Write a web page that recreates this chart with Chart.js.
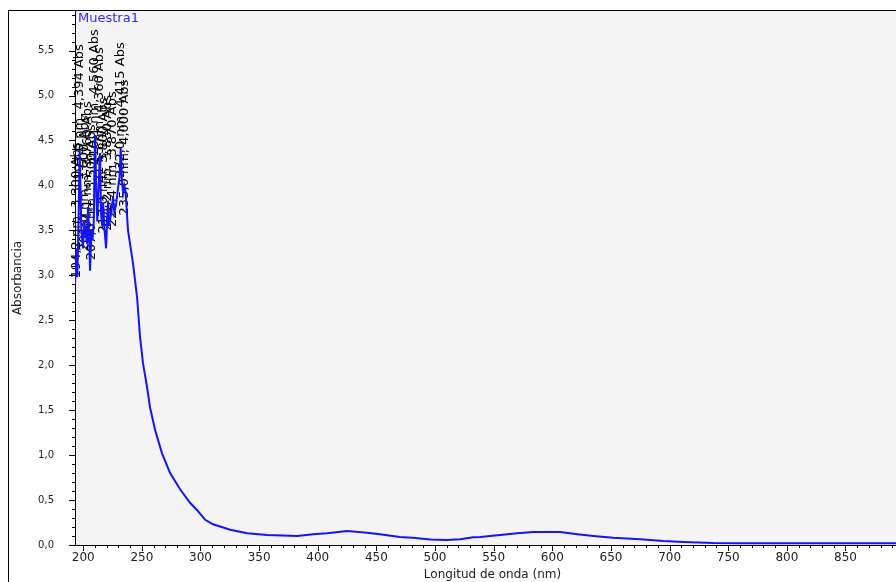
<!DOCTYPE html>
<html>
<head>
<meta charset="utf-8">
<script src="https://cdn.jsdelivr.net/npm/chart.js@4/dist/chart.umd.min.js"></script>
<style>
  html, body { margin: 0; padding: 0; background: #fff; overflow: hidden; }
  #wrap { width: 896px; height: 582px; overflow: hidden; }
</style>
</head>
<body>
<div id="wrap"><canvas id="spectrum" width="912" height="592"></canvas></div>
<script>
// UV-Vis scan, Muestra1
const wavelengths = [
  193.0, 194.2, 195.0, 196.0, 197.0, 198.4, 199.8, 201.0, 202.2, 203.4,
  204.1, 205.2, 205.8, 207.0, 208.0, 209.0, 210.1, 211.3, 212.0, 213.0,
  214.3, 215.2, 216.0, 217.0, 218.2, 219.5, 220.4, 221.2, 222.1, 222.9,
  224.0, 225.4, 226.5, 228.0, 229.5, 231.0, 232.0, 233.0, 234.0, 235.0,
  236.0, 238.2, 242.5, 245.9, 248.5, 251.0, 254.4, 257.0, 261.3, 267.2,
  274.1, 282.6, 291.1, 297.0, 301.4, 304.0, 310.7, 325.3, 339.8, 356.8,
  382.4, 396.1, 408.0, 425.0, 442.0, 453.0, 470.0, 481.0, 496.0, 510.0,
  521.5, 532.6, 538.6, 555.6, 570.0, 583.8, 606.8, 621.3, 635.0, 652.0,
  675.0, 694.7, 711.8, 737.4, 760.0, 800.0, 850.0, 900.0, 905.0
];
const absorbance = [
  2.90, 3.30, 2.98, 3.60, 4.394, 3.50, 3.30, 3.60, 3.45, 3.35,
  3.76, 3.40, 3.05, 3.50, 3.40, 3.60, 4.56, 3.85, 3.60, 3.95,
  4.36, 3.70, 3.55, 3.80, 3.50, 3.30, 3.60, 3.83, 3.55, 3.62,
  3.70, 3.87, 3.70, 3.78, 3.95, 4.10, 4.415, 4.05, 3.92, 4.00,
  3.95, 3.50, 3.13, 2.76, 2.31, 2.02, 1.76, 1.53, 1.28, 1.02,
  0.80, 0.62, 0.47, 0.39, 0.32, 0.28, 0.23, 0.17, 0.13, 0.11,
  0.10, 0.12, 0.13, 0.155, 0.135, 0.12, 0.09, 0.08, 0.06, 0.055,
  0.065, 0.085, 0.09, 0.11, 0.13, 0.145, 0.145, 0.12, 0.10, 0.08,
  0.065, 0.045, 0.033, 0.022, 0.02, 0.02, 0.02, 0.02, 0.02
];
const xTickValues = [200, 250, 300, 350, 400, 450, 500, 550, 600, 650, 700, 750, 800, 850];
const yTickValues = [0, 0.5, 1, 1.5, 2, 2.5, 3, 3.5, 4, 4.5, 5, 5.5];
const seriesName = 'Muestra1';
const peakLimit = 236; // only the noisy UV end gets peak labels

const comma = (v, d) => v.toFixed(d).replace('.', ',');
const font = 'DejaVu Sans';

const points = wavelengths.map((w, i) => ({ x: w, y: absorbance[i] }));

// local maxima in the UV region
const peaks = [];
for (let i = 1; i < points.length - 1; i++) {
  if (points[i].x < peakLimit && points[i].y > points[i - 1].y && points[i].y > points[i + 1].y) {
    peaks.push(points[i]);
  }
}

const framePlugin = {
  id: 'frame',
  beforeDraw(chart) {
    const { ctx, chartArea: a, width, height } = chart;
    ctx.save();
    ctx.fillStyle = '#fff';
    ctx.fillRect(0, 0, width, height);
    ctx.fillStyle = '#f4f4f4';
    ctx.fillRect(a.left, a.top, a.right - a.left, a.bottom - a.top);
    ctx.strokeStyle = '#000';
    ctx.lineWidth = 1;
    ctx.strokeRect(8.5, 10.5, width + 20, height + 20);
    ctx.restore();
  },
  beforeDatasetsDraw(chart) {
    const { ctx } = chart;
    const xs = chart.scales.x, ys = chart.scales.y;
    ctx.save();
    ctx.fillStyle = '#000';
    ctx.font = '13px "' + font + '"';
    ctx.textAlign = 'left';
    ctx.textBaseline = 'middle';
    peaks.forEach(p => {
      const px = xs.getPixelForValue(p.x);
      const py = ys.getPixelForValue(p.y);
      ctx.save();
      ctx.translate(px, py + 30);
      ctx.rotate(-Math.PI / 2);
      ctx.fillText(comma(p.x, 1) + ' nm, ' + comma(p.y, 3) + ' Abs', 0, 0);
      ctx.restore();
    });
    ctx.restore();
  },
  afterDraw(chart) {
    const { ctx, chartArea: a } = chart;
    const xs = chart.scales.x, ys = chart.scales.y;
    ctx.save();
    ctx.strokeStyle = '#000';
    ctx.lineWidth = 1;
    ctx.beginPath();
    for (let w = 200; w <= 900; w += 10) {
      const px = Math.round(xs.getPixelForValue(w)) + 0.5;
      const len = w % 50 === 0 ? 6 : 3;
      ctx.moveTo(px, a.bottom);
      ctx.lineTo(px, a.bottom + len);
    }
    for (let k = 0; k <= 59; k++) {
      const py = Math.round(ys.getPixelForValue(k / 10)) + 0.5;
      const len = k % 5 === 0 ? 6 : 3;
      ctx.moveTo(a.left, py);
      ctx.lineTo(a.left - len, py);
    }
    ctx.stroke();

    ctx.fillStyle = '#2a2aff';
    ctx.font = '13px "' + font + '"';
    ctx.textAlign = 'left';
    ctx.textBaseline = 'middle';
    ctx.fillText(seriesName, a.left + 3, a.top + 8);
    ctx.restore();
  }
};

new Chart('spectrum', {
  type: 'line',
  data: {
    datasets: [{
      label: seriesName,
      data: points,
      borderColor: 'rgb(20, 20, 250)',
      borderWidth: 2,
      pointRadius: 0,
      tension: 0,
      fill: false
    }]
  },
  options: {
    responsive: false,
    animation: false,
    devicePixelRatio: 1,
    layout: { padding: { left: 0, top: 11, right: 2, bottom: 0 } },
    plugins: { legend: { display: false }, tooltip: { enabled: false } },
    scales: {
      x: {
        type: 'linear',
        min: 193,
        max: 905,
        afterFit: s => { s.height = 47; s.paddingLeft = 0; s.paddingRight = 0; },
        afterBuildTicks: s => { s.ticks = xTickValues.map(value => ({ value })); },
        grid: { display: false, drawTicks: true, tickLength: 6 },
        border: { display: true, color: '#000', width: 1 },
        ticks: {
          autoSkip: false,
          maxRotation: 0,
          padding: 0,
          color: '#222',
          font: { family: font, size: 12 },
          callback: v => String(v)
        },
        title: {
          display: true,
          text: 'Longitud de onda (nm)',
          color: '#222',
          font: { family: font, size: 12 },
          padding: { top: 0, bottom: 10 }
        }
      },
      y: {
        min: 0,
        max: 5.94,
        afterFit: s => { s.width = 75; s.paddingTop = 0; s.paddingBottom = 0; },
        afterBuildTicks: s => { s.ticks = yTickValues.map(value => ({ value })); },
        grid: { display: false, drawTicks: true, tickLength: 6 },
        border: { display: true, color: '#000', width: 1 },
        ticks: {
          padding: 15,
          color: '#222',
          font: { family: font, size: 10 },
          callback: v => comma(v, 1)
        },
        title: {
          display: true,
          text: 'Absorbancia',
          color: '#222',
          font: { family: font, size: 12 },
          padding: { top: 11, bottom: 0 }
        }
      }
    }
  },
  plugins: [framePlugin]
});
</script>
</body>
</html>
